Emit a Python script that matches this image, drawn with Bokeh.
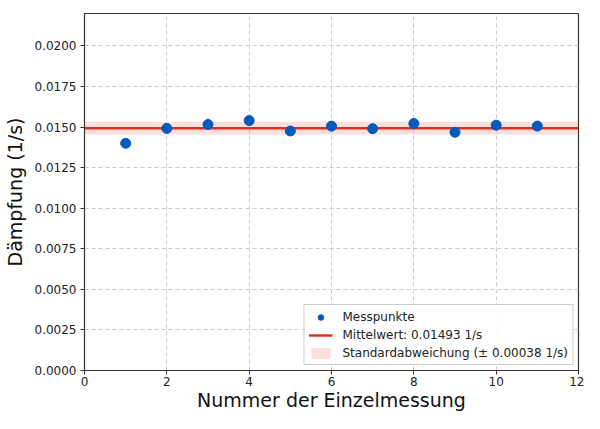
from bokeh.plotting import figure
from bokeh.models import ColumnDataSource, NumeralTickFormatter, FixedTicker, Legend, LegendItem
from bokeh.embed import file_html
from bokeh.resources import INLINE

messung = [1, 2, 3, 4, 5, 6, 7, 8, 9, 10, 11]
daempfung = [0.01400, 0.01492, 0.01516, 0.01540, 0.01476, 0.01506,
             0.01490, 0.01522, 0.01468, 0.01512, 0.01506]
mittelwert = 0.01493
std = 0.00038
x_ticks = [0, 2, 4, 6, 8, 10, 12]
y_ticks = [0.0, 0.0025, 0.005, 0.0075, 0.01, 0.0125, 0.015, 0.0175, 0.02]

FONT = "DejaVu Sans"

p = figure(width=584, height=413, x_range=(0, 12), y_range=(0, 0.022),
           output_backend="svg", toolbar_location=None,
           min_border_left=84, min_border_top=13, min_border_right=6, min_border_bottom=36)
p.outline_line_color = "#333333"
p.outline_line_width = 1.2

band = p.varea(x=[0, 12], y1=[mittelwert - std] * 2, y2=[mittelwert + std] * 2,
               fill_color="#f08080", fill_alpha=0.25)
line = p.line(x=[0, 12], y=[mittelwert] * 2, line_color="#e03020", line_width=2.5)
src = ColumnDataSource(dict(x=messung, y=daempfung))
pts = p.scatter("x", "y", source=src, size=10, fill_color="#005bbb", line_color="#005bbb")

for ax in (p.xaxis[0], p.yaxis[0]):
    ax.major_label_text_font = FONT
    ax.major_label_text_font_size = "12px"
    ax.major_label_text_color = "#222222"
    ax.axis_label_text_font = FONT
    ax.axis_label_text_font_size = "19px"
    ax.axis_label_text_font_style = "normal"
    ax.axis_label_text_color = "#111111"
    ax.minor_tick_line_color = None
    ax.axis_line_color = "#333333"
    ax.major_tick_line_color = "#333333"
    ax.major_tick_in = 0
    ax.major_tick_out = 4

p.xaxis.axis_label = "Nummer der Einzelmessung"
p.yaxis.axis_label = "Dämpfung (1/s)"
p.xaxis.ticker = FixedTicker(ticks=x_ticks)
p.yaxis.ticker = FixedTicker(ticks=y_ticks)
p.yaxis.formatter = NumeralTickFormatter(format="0.0000")
p.xaxis.major_label_standoff = 2
p.yaxis.major_label_standoff = 4
p.xaxis.axis_label_standoff = 0
p.yaxis.axis_label_standoff = 6

p.xgrid.ticker = FixedTicker(ticks=x_ticks)
p.ygrid.ticker = FixedTicker(ticks=y_ticks)
for g in (p.xgrid[0], p.ygrid[0]):
    g.grid_line_color = "#cccccc"
    g.grid_line_dash = "4 3"
    g.grid_line_width = 1

legend = Legend(items=[
    LegendItem(label="Messpunkte", renderers=[pts]),
    LegendItem(label="Mittelwert: 0.01493 1/s", renderers=[line]),
    LegendItem(label="Standardabweichung (± 0.00038 1/s)", renderers=[band]),
], location="bottom_right")
legend.label_text_font = FONT
legend.label_text_font_size = "12px"
legend.label_text_color = "#222222"
legend.border_line_color = "#cccccc"
legend.border_line_alpha = 1
legend.background_fill_alpha = 0.85
legend.glyph_width = 24
legend.glyph_height = 14
legend.spacing = 3
legend.padding = 4
legend.margin = 5
legend.label_height = 15
legend.label_standoff = 10
p.add_layout(legend)

open("out.html", "w").write(file_html(p, INLINE))
